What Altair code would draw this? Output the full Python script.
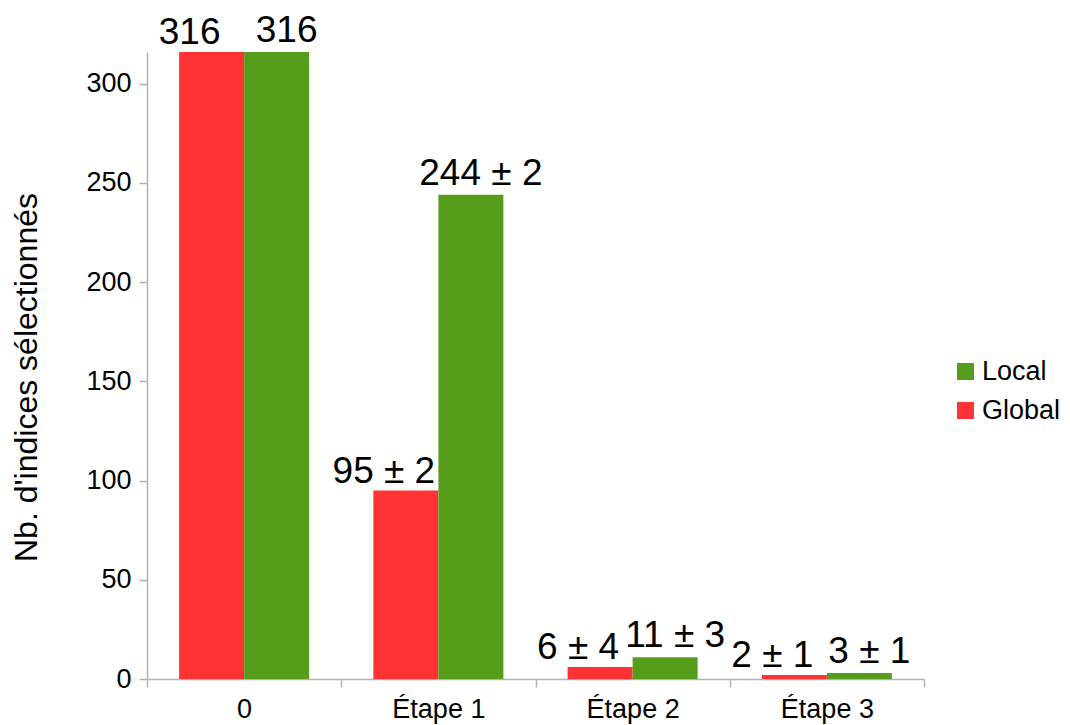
import altair as alt
import pandas as pd

categories = ["0", "Étape 1", "Étape 2", "Étape 3"]
series_order = ["Global", "Local"]
legend_order = ["Local", "Global"]
global_values = [316, 95, 6, 2]
local_values = [316, 244, 11, 3]
global_errors = [None, 2, 4, 1]
local_errors = [None, 2, 3, 1]
y_ticks = [0, 50, 100, 150, 200, 250, 300]
y_max = 316
legend_colors = ["#579d1c", "#ff3333"]

rows = []
for s, vals, errs in (("Global", global_values, global_errors),
                      ("Local", local_values, local_errors)):
    for c, v, e in zip(categories, vals, errs):
        label = f"{v}" if e is None else f"{v} ± {e}"
        rows.append({"cat": c, "serie": s, "val": v, "label": label})
df = pd.DataFrame(rows)

FONT = "Liberation Sans"
GRAY = "#b3b3b3"

x_enc = alt.X(
    "cat:N", sort=categories,
    scale=alt.Scale(paddingInner=0, paddingOuter=0),
    axis=alt.Axis(title=None, labelAngle=0, tickBand="extent", tickSize=8,
                  labelFontSize=27, labelFont=FONT, labelColor="#000000",
                  labelBaseline="alphabetic", labelPadding=30,
                  domainColor=GRAY, tickColor=GRAY, domainWidth=1.5, tickWidth=1.5),
)
xoff_enc = alt.XOffset("serie:N", sort=series_order,
                       scale=alt.Scale(paddingInner=0, paddingOuter=0.494))
y_enc = alt.Y(
    "val:Q",
    scale=alt.Scale(domain=[0, y_max], nice=False),
    axis=alt.Axis(values=y_ticks, grid=False, title="Nb. d'indices sélectionnés",
                  titleFontSize=32, titleFont=FONT, titleFontWeight="normal",
                  titleColor="#000000", titleX=-111, titleY=325,
                  titleBaseline="alphabetic", titleAlign="center", titleAngle=270,
                  labelFontSize=27, labelFont=FONT, labelColor="#000000",
                  tickSize=8, labelPadding=8, domainColor=GRAY, tickColor=GRAY,
                  domainWidth=1.5, tickWidth=1.5),
)

bars = alt.Chart(df).mark_bar(strokeWidth=0).encode(
    x=x_enc, xOffset=xoff_enc, y=y_enc,
    color=alt.Color("serie:N",
                    scale=alt.Scale(domain=legend_order, range=legend_colors),
                    legend=alt.Legend(title=None, orient="none", legendX=805, legendY=306,
                                      symbolType="square", symbolSize=289,
                                      symbolStrokeWidth=0, labelFontSize=27,
                                      labelFont=FONT, labelColor="#000000",
                                      rowPadding=11, labelOffset=3, padding=0)),
)

text_global = alt.Chart(df).transform_filter(alt.datum.serie == "Global").mark_text(
    font=FONT, fontSize=37, color="#000000", baseline="alphabetic", dx=-22, dy=-8
).encode(x=x_enc, xOffset=xoff_enc, y=y_enc, text="label:N")

text_local = alt.Chart(df).transform_filter(alt.datum.serie == "Local").mark_text(
    font=FONT, fontSize=37, color="#000000", baseline="alphabetic", dx=10, dy=-10
).encode(x=x_enc, xOffset=xoff_enc, y=y_enc, text="label:N")

chart = alt.layer(bars, text_global, text_local).properties(
    width=777, height=627,
    autosize=alt.AutoSizeParams(type="none"),
    padding={"left": 139, "top": 44, "right": 138, "bottom": 46},
).configure_view(stroke=None)

chart.save("out.html", embed_options={"renderer": "svg", "actions": False})
